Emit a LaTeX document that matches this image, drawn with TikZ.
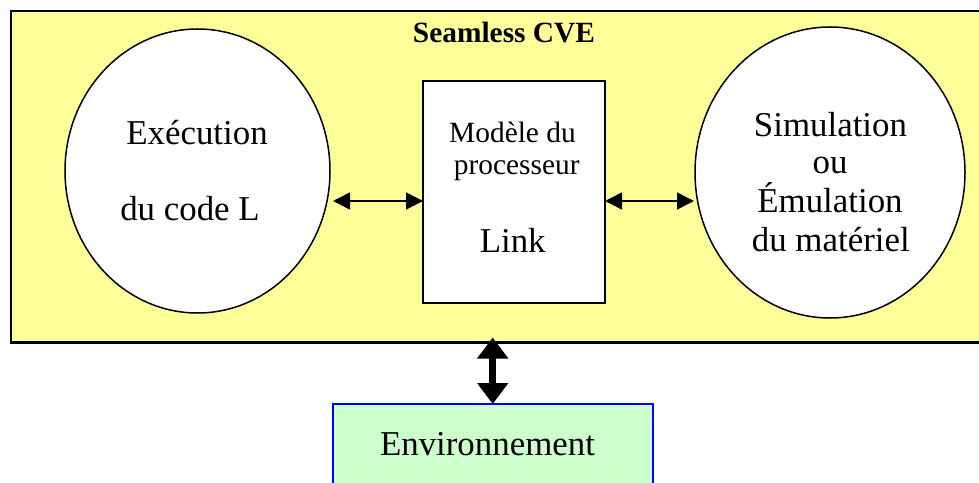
\documentclass[tikz,border=0pt]{standalone}
\usepackage{fontspec}
\setmainfont{Liberation Serif}
\usetikzlibrary{arrows.meta,shapes.geometric}
\definecolor{cveyellow}{HTML}{FFFF99}
\definecolor{envgreen}{HTML}{CCFFCC}
\begin{document}
\begin{tikzpicture}[x=1bp,y=-1bp,
  big/.style={font=\fontsize{35}{38.5}\selectfont, inner sep=0pt, anchor=base},
  mid/.style={font=\fontsize{29.5}{32}\selectfont, inner sep=0pt, anchor=base},
  titlefont/.style={font=\fontsize{29.5}{31}\selectfont\bfseries, inner sep=0pt, anchor=base},
  blob/.style={ellipse, draw=black, fill=white, line width=1.5bp, inner sep=0pt, outer sep=0pt},
  boxshape/.style={rectangle, draw=black, fill=white, line width=2bp, inner sep=0pt, outer sep=0pt, anchor=north west},
  thinarrow/.style={line width=1.5bp, {Triangle[length=17bp,width=17bp]}-{Triangle[length=17bp,width=17bp]}},
  thickarrow/.style={line width=7bp, {Triangle[length=21bp,width=30bp]}-{Triangle[length=21bp,width=30bp]}}
]
\useasboundingbox (0,0) rectangle (979,483);
\clip (0,0) rectangle (979,483);
% outer yellow frame
\node[rectangle, draw=black, fill=cveyellow, line width=2.5bp, inner sep=0pt, outer sep=0pt,
      anchor=north west, minimum width=990bp, minimum height=331.5bp] (cve) at (11,11) {};
\node[titlefont] (title) at (504,43) {Seamless CVE};
% left ellipse
\node[blob, minimum width=265bp, minimum height=284bp] (le) at (197.5,171) {};
\node[big] (le1) at (197,145) {Exécution};
\node[big] (le2) at (190,221) {du code L};
% middle box
\node[boxshape, minimum width=182bp, minimum height=222bp] (mb) at (423,80.7) {};
\node[mid] (mb1) at (512.5,143) {Modèle du};
\node[mid] (mb2) at (516.7,175) {processeur};
\node[big] (mb3) at (512.7,253) {Link};
% right ellipse
\node[blob, minimum width=270bp, minimum height=291bp] (re) at (830,172.5) {};
\node[big] (re1) at (830.5,137) {Simulation};
\node[big] (re2) at (830,174) {ou};
\node[big] (re3) at (830,213) {Émulation};
\node[big] (re4) at (830.8,252) {du matériel};
% environment box
\node[rectangle, draw=blue, fill=envgreen, line width=2bp, inner sep=0pt, outer sep=0pt,
      anchor=north west, minimum width=320bp, minimum height=110bp] (env) at (332.7,404) {};
\node[big] (envt) at (487.5,455) {Environnement};
% connectors
\coordinate (aL) at (333,201);
\coordinate (aR) at (694,201);
\draw[thinarrow] (aL) -- (aL -| mb.west);
\draw[thinarrow] (aR -| mb.east) -- (aR);
\coordinate (aT) at ([yshift=5bp]cve.south -| env.north);
\draw[thickarrow] (aT) -- (env.north);
\end{tikzpicture}
\end{document}
